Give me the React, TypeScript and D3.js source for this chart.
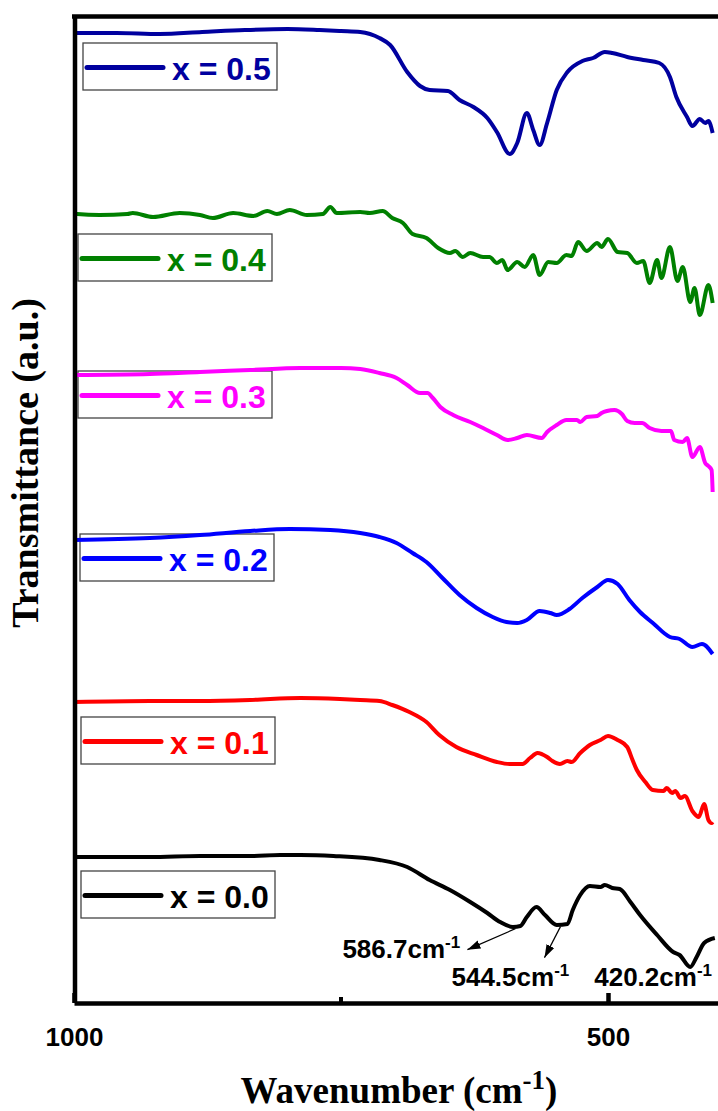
import React, { useEffect, useRef } from "react";
import * as d3 from "d3";

// FTIR spectra, [wavenumber (cm-1), transmittance (a.u., stacked)]
const x00: [number, number][] = [
  [1000, 14.5], [929, 14.5], [882, 14.6], [835, 14.6], [807, 14.7], [788, 14.7],
  [757, 14.6], [714, 14.2], [688, 13.5], [667, 12.2], [648, 11.2], [629, 10.0],
  [613, 8.9], [601, 8.0], [589, 7.5], [582, 7.6], [576, 8.5], [567, 9.5],
  [559, 8.7], [548, 7.7], [538, 7.8], [533, 9.2], [526, 10.7], [517, 11.6],
  [507, 11.5], [503, 11.7], [496, 11.4], [489, 11.3], [479, 10.0], [470, 8.7],
  [454, 6.7], [439, 5.0], [433, 4.7], [423, 3.5], [417, 4.5], [410, 5.9], [400, 6.4],
];

const x01: [number, number][] = [
  [1000, 30.0], [929, 30.1], [882, 30.1], [835, 30.2], [788, 30.4], [751, 30.3],
  [732, 30.2], [714, 30.1], [702, 29.7], [686, 29.0], [670, 28.0], [658, 26.7],
  [642, 25.5], [623, 24.7], [604, 24.0], [592, 23.8], [580, 23.8], [573, 24.4],
  [566, 24.9], [557, 24.5], [552, 24.1], [545, 23.8], [538, 24.1], [534, 24.0],
  [526, 24.9], [517, 25.7], [507, 26.2], [500, 26.6], [491, 26.2], [482, 25.5],
  [477, 24.2], [473, 23.2], [465, 22.0], [458, 21.2], [448, 21.1], [445, 21.4],
  [440, 20.9], [437, 21.1], [432, 20.4], [428, 20.6], [421, 19.1], [415, 18.5],
  [410, 19.8], [406, 18.2], [403, 17.9], [402, 18.0],
];

const x02: [number, number][] = [
  [1000, 46.2], [929, 46.4], [882, 46.7], [835, 47.1], [798, 47.3], [760, 47.2],
  [732, 46.9], [714, 46.5], [698, 45.9], [683, 44.9], [670, 44.0], [655, 42.4],
  [639, 40.7], [623, 39.4], [608, 38.5], [595, 38.0], [585, 37.9], [576, 38.2],
  [564, 39.1], [554, 38.9], [548, 38.7], [536, 39.3], [524, 40.4], [510, 41.5],
  [500, 42.2], [491, 41.8], [480, 40.2], [470, 39.0], [458, 37.9], [442, 36.5],
  [433, 36.3], [421, 35.5], [412, 35.8], [402, 34.8],
];

const x03: [number, number][] = [
  [1000, 62.7], [929, 62.8], [882, 63.0], [835, 63.2], [788, 63.4], [750, 63.4],
  [732, 63.3], [714, 62.9], [698, 62.4], [688, 61.7], [676, 60.9], [669, 60.9],
  [664, 60.4], [657, 59.5], [645, 58.7], [629, 58.0], [617, 57.4], [604, 56.7],
  [594, 56.2], [585, 56.4], [576, 56.7], [562, 56.4], [557, 57.0], [548, 57.7],
  [539, 58.2], [529, 58.2], [526, 58.0], [520, 58.5], [510, 58.6], [506, 58.9],
  [501, 59.1], [494, 59.2], [487, 58.8], [482, 58.1], [475, 57.9], [468, 57.9],
  [461, 57.4], [450, 57.1], [441, 57.1], [438, 56.2], [430, 56.0], [426, 56.4],
  [421, 54.5], [414, 55.5], [409, 53.9], [406, 53.6], [403, 53.2], [402, 51.0],
];

const x04: [number, number][] = [
  [1000, 78.9], [997, 78.8], [976, 78.7], [950, 78.8], [945, 78.9], [926, 78.5],
  [901, 78.9], [882, 78.7], [870, 78.4], [851, 78.9], [832, 78.6], [819, 79.1],
  [810, 78.8], [798, 79.2], [782, 78.7], [767, 78.8], [760, 79.5], [754, 78.9],
  [732, 79.0], [723, 78.9], [711, 79.1], [702, 78.4], [692, 77.9], [683, 76.8],
  [670, 76.4], [659, 75.4], [648, 74.9], [643, 75.1], [636, 74.5], [629, 74.9],
  [617, 74.5], [611, 74.5], [604, 73.9], [599, 74.2], [594, 73.2], [585, 74.0],
  [578, 73.5], [570, 74.7], [564, 72.7], [556, 74.0], [548, 73.9], [539, 74.7],
  [534, 74.6], [528, 76.0], [520, 75.1], [510, 75.9], [506, 75.5], [500, 76.3],
  [491, 75.0], [482, 74.9], [473, 73.9], [467, 74.1], [461, 71.9], [454, 74.2],
  [450, 72.4], [442, 75.5], [435, 72.1], [430, 73.5], [423, 70.0], [419, 71.4],
  [414, 68.7], [406, 71.7], [402, 69.9],
];

const x05: [number, number][] = [
  [1000, 96.9], [960, 96.9], [920, 96.8], [880, 97.0], [840, 97.2], [800, 97.3],
  [770, 97.2], [750, 97.1], [732, 97.0], [714, 96.4], [704, 95.7], [688, 93.0],
  [676, 91.6], [667, 91.2], [650, 91.1], [639, 90.2], [626, 89.5], [613, 88.4],
  [604, 87.0], [592, 84.8], [585, 85.9], [576, 88.9], [570, 87.2], [564, 85.7],
  [557, 87.9], [548, 91.2], [538, 93.0], [524, 94.1], [514, 94.4], [503, 95.0],
  [496, 94.9], [482, 94.5], [467, 94.2], [452, 93.9], [442, 92.5], [436, 90.5],
  [426, 88.5], [421, 87.6], [414, 88.3], [409, 87.9], [406, 88.1], [402, 86.9],
];

const labels = ["x = 0.5", "x = 0.4", "x = 0.3", "x = 0.2", "x = 0.1", "x = 0.0"];
const colors = ["#00009f", "#008000", "#ff00ff", "#0000ff", "#ff0000", "#000000"];
const spectra = [x05, x04, x03, x02, x01, x00];

// legend box placement (left, top) in px
const legendLeft = [83, 78, 78, 80, 81, 81];
const legendTop = [43, 234, 371, 534, 717, 871];

const majorTicks = [1000, 500];
const minorTicks = [750];

// marked bands on the x = 0.0 curve
const peaks = [586.7, 544.5, 420.2];

const W = 718;
const H = 1111;

export default function App() {
  const svgRef = useRef<SVGSVGElement>(null);

  useEffect(() => {
    const svg = d3.select(svgRef.current);
    svg.selectAll("*").remove();

    const x = d3.scaleLinear().domain([1000, 397]).range([74, 718]);
    const y = d3.scaleLinear().domain([0, 98.6]).range([1002, 16]);

    const defs = svg.append("defs");
    defs
      .append("marker")
      .attr("id", "arrow")
      .attr("viewBox", "0 0 12 8")
      .attr("refX", 12)
      .attr("refY", 4)
      .attr("markerWidth", 13)
      .attr("markerHeight", 9)
      .attr("markerUnits", "userSpaceOnUse")
      .attr("orient", "auto")
      .append("path")
      .attr("d", "M0,0L12,4L0,8Z")
      .attr("fill", "#000");

    // legends go under the curves
    labels.forEach((label, i) => {
      const g = svg
        .append("g")
        .attr("transform", `translate(${legendLeft[i]},${legendTop[i]})`);
      g.append("rect")
        .attr("width", 194)
        .attr("height", 47)
        .attr("fill", "none")
        .attr("stroke", "#444")
        .attr("stroke-width", 1.3);
      g.append("line")
        .attr("x1", 4).attr("x2", 80)
        .attr("y1", 24.5).attr("y2", 24.5)
        .attr("stroke", colors[i])
        .attr("stroke-width", 5)
        .attr("stroke-linecap", "round");
      g.append("text")
        .attr("x", 89)
        .attr("y", 36.5)
        .attr("fill", colors[i])
        .attr("font-family", "'Liberation Sans', Arial, sans-serif")
        .attr("font-weight", "bold")
        .attr("font-size", 32)
        .text(label);
    });

    const line = d3
      .line<[number, number]>()
      .x((d) => x(d[0]))
      .y((d) => y(d[1]))
      .curve(d3.curveMonotoneX);

    spectra.forEach((data, i) => {
      svg
        .append("path")
        .datum(data)
        .attr("fill", "none")
        .attr("stroke", colors[i])
        .attr("stroke-width", 4)
        .attr("stroke-linejoin", "round")
        .attr("d", line);
    });

    // frame
    svg
      .append("line")
      .attr("x1", 72).attr("x2", W)
      .attr("y1", 16.5).attr("y2", 16.5)
      .attr("stroke", "#000").attr("stroke-width", 4.5);

    svg
      .append("g")
      .attr("transform", "translate(74.5,0)")
      .call(d3.axisLeft(y).ticks(0).tickSizeOuter(0))
      .call((g) => g.select(".domain").attr("stroke-width", 4.5));

    const bottom = svg.append("g").attr("transform", "translate(0,1003)");
    bottom
      .call(
        d3
          .axisBottom(x)
          .tickValues(majorTicks)
          .tickSizeInner(-10)
          .tickSizeOuter(0)
          .tickPadding(25)
          .tickFormat(d3.format("d"))
      )
      .call((g) => g.select(".domain").attr("stroke-width", 4.5))
      .call((g) => g.selectAll(".tick line").attr("stroke-width", 4.5))
      .call((g) =>
        g
          .selectAll(".tick text")
          .attr("fill", "#000")
          .attr("font-family", "'Liberation Sans', Arial, sans-serif")
          .attr("font-weight", "bold")
          .attr("font-size", 26)
      );
    bottom
      .selectAll(".minor")
      .data(minorTicks)
      .enter()
      .append("line")
      .attr("x1", (d) => x(d))
      .attr("x2", (d) => x(d))
      .attr("y1", 0)
      .attr("y2", -6)
      .attr("stroke", "#000")
      .attr("stroke-width", 4);

    // axis titles
    svg
      .append("text")
      .attr("transform", "translate(38,463) rotate(-90)")
      .attr("text-anchor", "middle")
      .attr("font-family", "'Liberation Serif', 'Times New Roman', serif")
      .attr("font-weight", "bold")
      .attr("font-size", 38)
      .text("Transmittance (a.u.)");

    const xt = svg
      .append("text")
      .attr("x", 399)
      .attr("y", 1103)
      .attr("text-anchor", "middle")
      .attr("font-family", "'Liberation Serif', 'Times New Roman', serif")
      .attr("font-weight", "bold")
      .attr("font-size", 37);
    xt.append("tspan").text("Wavenumber (cm");
    xt.append("tspan").attr("dy", -14).attr("font-size", 27).text("-1");
    xt.append("tspan").attr("dy", 14).text(")");

    // peak annotations
    const ref = d3.scaleLinear()
      .domain(x00.map((d) => d[0]).reverse())
      .range(x00.map((d) => d[1]).reverse());
    const labelPos = [
      { dx: -173, y: 958, arrow: [-48, 21] },
      { dx: -109, y: 986, arrow: [-16, 31] },
      { dx: -99, y: 986, arrow: null },
    ];
    peaks.forEach((p, i) => {
      const px = x(p);
      const py = y(ref(p));
      const pos = labelPos[i];
      if (pos.arrow) {
        svg
          .append("line")
          .attr("x1", px)
          .attr("y1", py + 2)
          .attr("x2", px + pos.arrow[0])
          .attr("y2", py + 2 + pos.arrow[1])
          .attr("stroke", "#000")
          .attr("stroke-width", 1.2)
          .attr("marker-end", "url(#arrow)");
      }
      const t = svg
        .append("text")
        .attr("x", px + pos.dx)
        .attr("y", pos.y)
        .attr("fill", "#000")
        .attr("font-family", "'Liberation Sans', Arial, sans-serif")
        .attr("font-weight", "bold")
        .attr("font-size", 26);
      t.append("tspan").text(`${p.toFixed(1)}cm`);
      t.append("tspan").attr("dy", -10).attr("font-size", 17).text("-1");
    });
  }, []);

  return (
    <div style={{ position: "absolute", left: 0, top: 0 }}>
      <svg ref={svgRef} width={W} height={H} style={{ display: "block" }}></svg>
    </div>
  );
}
